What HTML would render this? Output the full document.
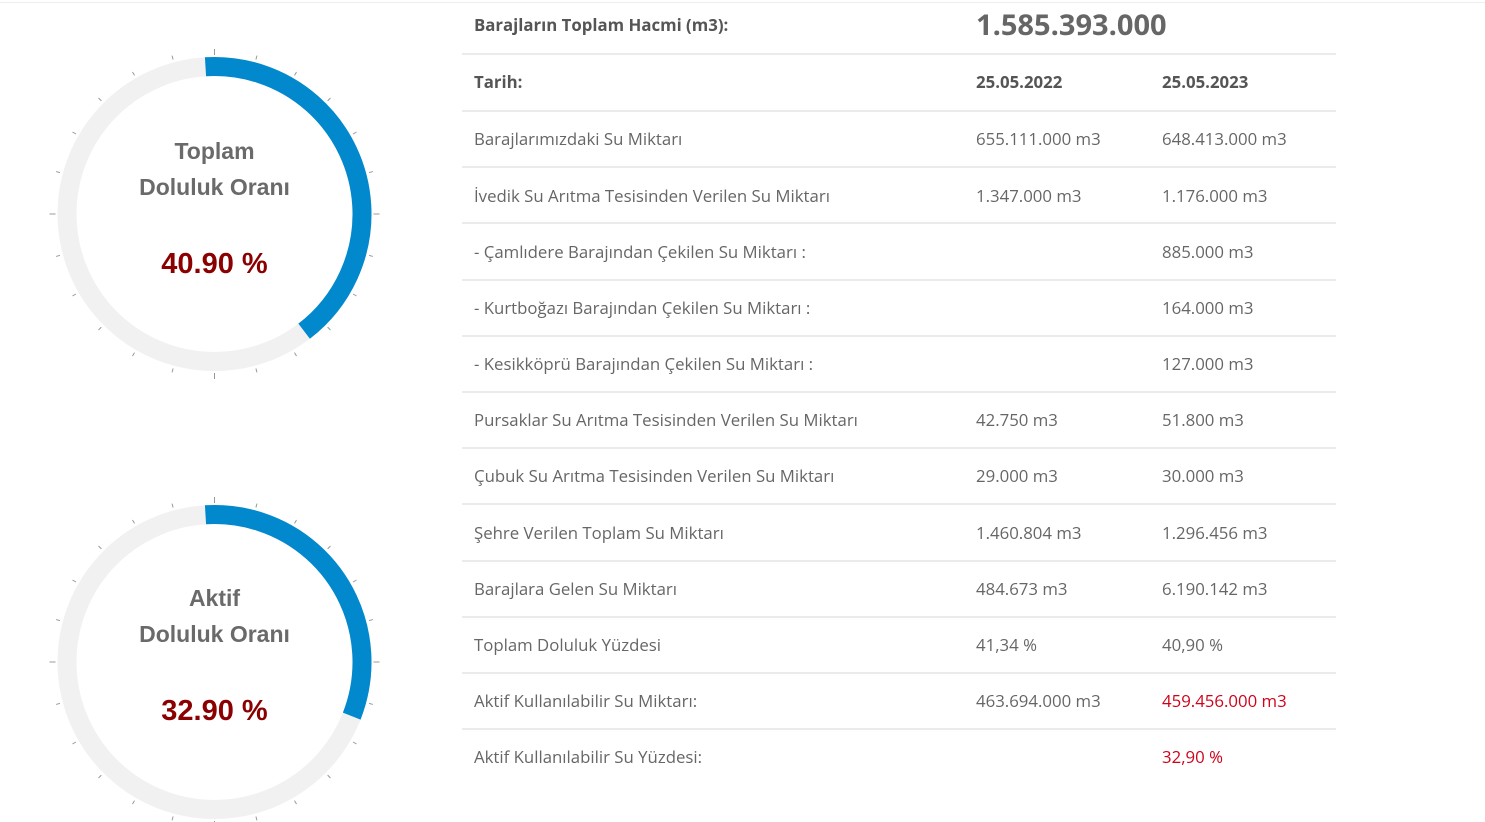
<!DOCTYPE html>
<html><head><meta charset="utf-8"><style>
body{margin:0;width:1485px;height:822px;background:#fff;position:relative;overflow:hidden;font-family:"Open Sans","Liberation Sans",sans-serif;}
.topline{position:absolute;left:0;top:2px;width:1485px;height:1px;background:#eee}
.t{position:absolute;font-size:16.8px;color:#666;white-space:nowrap;line-height:20px}
.b{font-weight:bold;color:#555}
.r{color:#d0021b}
.hl{position:absolute;left:462px;width:874px;height:2px;background:#ebebeb}
</style></head><body>
<div class="topline"></div>
<svg width="430" height="822" style="position:absolute;left:0;top:0" xmlns="http://www.w3.org/2000/svg">
<defs>
<g id="ticks" stroke="#999" stroke-width="1">
<line x1="214.5" y1="49" x2="214.5" y2="55" transform="rotate(0 214.5 214)"/><line x1="214.5" y1="50" x2="214.5" y2="54" transform="rotate(15 214.5 214)"/><line x1="214.5" y1="50" x2="214.5" y2="54" transform="rotate(30 214.5 214)"/><line x1="214.5" y1="50" x2="214.5" y2="54" transform="rotate(45 214.5 214)"/><line x1="214.5" y1="50" x2="214.5" y2="54" transform="rotate(60 214.5 214)"/><line x1="214.5" y1="50" x2="214.5" y2="54" transform="rotate(75 214.5 214)"/><line x1="214.5" y1="49" x2="214.5" y2="55" transform="rotate(90 214.5 214)"/><line x1="214.5" y1="50" x2="214.5" y2="54" transform="rotate(105 214.5 214)"/><line x1="214.5" y1="50" x2="214.5" y2="54" transform="rotate(120 214.5 214)"/><line x1="214.5" y1="50" x2="214.5" y2="54" transform="rotate(135 214.5 214)"/><line x1="214.5" y1="50" x2="214.5" y2="54" transform="rotate(150 214.5 214)"/><line x1="214.5" y1="50" x2="214.5" y2="54" transform="rotate(165 214.5 214)"/><line x1="214.5" y1="49" x2="214.5" y2="55" transform="rotate(180 214.5 214)"/><line x1="214.5" y1="50" x2="214.5" y2="54" transform="rotate(195 214.5 214)"/><line x1="214.5" y1="50" x2="214.5" y2="54" transform="rotate(210 214.5 214)"/><line x1="214.5" y1="50" x2="214.5" y2="54" transform="rotate(225 214.5 214)"/><line x1="214.5" y1="50" x2="214.5" y2="54" transform="rotate(240 214.5 214)"/><line x1="214.5" y1="50" x2="214.5" y2="54" transform="rotate(255 214.5 214)"/><line x1="214.5" y1="49" x2="214.5" y2="55" transform="rotate(270 214.5 214)"/><line x1="214.5" y1="50" x2="214.5" y2="54" transform="rotate(285 214.5 214)"/><line x1="214.5" y1="50" x2="214.5" y2="54" transform="rotate(300 214.5 214)"/><line x1="214.5" y1="50" x2="214.5" y2="54" transform="rotate(315 214.5 214)"/><line x1="214.5" y1="50" x2="214.5" y2="54" transform="rotate(330 214.5 214)"/><line x1="214.5" y1="50" x2="214.5" y2="54" transform="rotate(345 214.5 214)"/>
</g>
</defs>
<g>
<circle cx="214.5" cy="214" r="147.5" fill="none" stroke="#f1f1f1" stroke-width="19"/>
<circle cx="214.5" cy="214" r="147.5" fill="none" stroke="#0288cc" stroke-width="19" stroke-dasharray="375.9 1000" transform="rotate(-93.5 214.5 214)"/>
<use href="#ticks"/>
<text x="214.5" y="159" text-anchor="middle" font-family="Liberation Sans, sans-serif" font-weight="bold" font-size="23" fill="#6a6a6a">Toplam</text>
<text x="214.5" y="195" text-anchor="middle" font-family="Liberation Sans, sans-serif" font-weight="bold" font-size="23" fill="#6a6a6a">Doluluk Oranı</text>
<text x="214.5" y="273" text-anchor="middle" font-family="Liberation Sans, sans-serif" font-weight="bold" font-size="29" fill="#8b0000">40.90 %</text>
</g>
<g transform="translate(0 448)">
<circle cx="214.5" cy="214" r="147.5" fill="none" stroke="#f1f1f1" stroke-width="19"/>
<circle cx="214.5" cy="214" r="147.5" fill="none" stroke="#0288cc" stroke-width="19" stroke-dasharray="296 1000" transform="rotate(-93.5 214.5 214)"/>
<use href="#ticks"/>
<text x="214.5" y="158" text-anchor="middle" font-family="Liberation Sans, sans-serif" font-weight="bold" font-size="23" fill="#6a6a6a">Aktif</text>
<text x="214.5" y="194" text-anchor="middle" font-family="Liberation Sans, sans-serif" font-weight="bold" font-size="23" fill="#6a6a6a">Doluluk Oranı</text>
<text x="214.5" y="272" text-anchor="middle" font-family="Liberation Sans, sans-serif" font-weight="bold" font-size="29" fill="#8b0000">32.90 %</text>
</g>
</svg>

<div class="hl" style="top:53px"></div><div class="hl" style="top:110px"></div><div class="hl" style="top:166px"></div><div class="hl" style="top:222px"></div><div class="hl" style="top:279px"></div><div class="hl" style="top:335px"></div><div class="hl" style="top:391px"></div><div class="hl" style="top:447px"></div><div class="hl" style="top:503px"></div><div class="hl" style="top:560px"></div><div class="hl" style="top:616px"></div><div class="hl" style="top:672px"></div><div class="hl" style="top:728px"></div>

<div class="t b" style="left:474px;top:15px">Barajların Toplam Hacmi (m3):</div>
<div class="t b" style="left:976px;top:8px;font-size:29px;line-height:34px;color:#666">1.585.393.000</div>
<div class="t b" style="left:474px;top:72px">Tarih:</div>
<div class="t b" style="left:976px;top:72px">25.05.2022</div>
<div class="t b" style="left:1162px;top:72px">25.05.2023</div>

<div class="t" style="left:474px;top:129px">Barajlarımızdaki Su Miktarı</div><div class="t" style="left:976px;top:129px">655.111.000 m3</div><div class="t" style="left:1162px;top:129px">648.413.000 m3</div>
<div class="t" style="left:474px;top:186px">İvedik Su Arıtma Tesisinden Verilen Su Miktarı</div><div class="t" style="left:976px;top:186px">1.347.000 m3</div><div class="t" style="left:1162px;top:186px">1.176.000 m3</div>
<div class="t" style="left:474px;top:242px">- Çamlıdere Barajından Çekilen Su Miktarı :</div><div class="t" style="left:1162px;top:242px">885.000 m3</div>
<div class="t" style="left:474px;top:298px">- Kurtboğazı Barajından Çekilen Su Miktarı :</div><div class="t" style="left:1162px;top:298px">164.000 m3</div>
<div class="t" style="left:474px;top:354px">- Kesikköprü Barajından Çekilen Su Miktarı :</div><div class="t" style="left:1162px;top:354px">127.000 m3</div>
<div class="t" style="left:474px;top:410px">Pursaklar Su Arıtma Tesisinden Verilen Su Miktarı</div><div class="t" style="left:976px;top:410px">42.750 m3</div><div class="t" style="left:1162px;top:410px">51.800 m3</div>
<div class="t" style="left:474px;top:466px">Çubuk Su Arıtma Tesisinden Verilen Su Miktarı</div><div class="t" style="left:976px;top:466px">29.000 m3</div><div class="t" style="left:1162px;top:466px">30.000 m3</div>
<div class="t" style="left:474px;top:523px">Şehre Verilen Toplam Su Miktarı</div><div class="t" style="left:976px;top:523px">1.460.804 m3</div><div class="t" style="left:1162px;top:523px">1.296.456 m3</div>
<div class="t" style="left:474px;top:579px">Barajlara Gelen Su Miktarı</div><div class="t" style="left:976px;top:579px">484.673 m3</div><div class="t" style="left:1162px;top:579px">6.190.142 m3</div>
<div class="t" style="left:474px;top:635px">Toplam Doluluk Yüzdesi</div><div class="t" style="left:976px;top:635px">41,34 %</div><div class="t" style="left:1162px;top:635px">40,90 %</div>
<div class="t" style="left:474px;top:691px">Aktif Kullanılabilir Su Miktarı:</div><div class="t" style="left:976px;top:691px">463.694.000 m3</div><div class="t r" style="left:1162px;top:691px">459.456.000 m3</div>
<div class="t" style="left:474px;top:747px">Aktif Kullanılabilir Su Yüzdesi:</div><div class="t r" style="left:1162px;top:747px">32,90 %</div>
</body></html>
